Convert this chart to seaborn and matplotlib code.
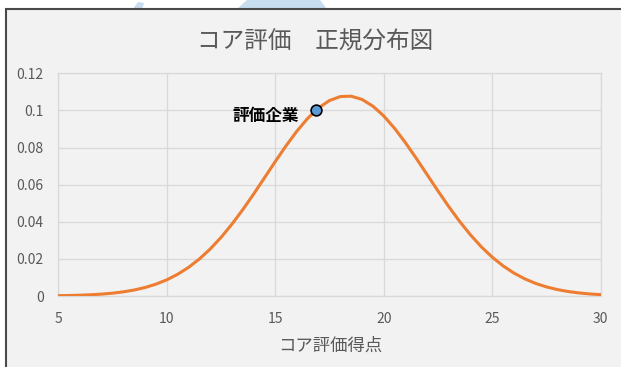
import matplotlib
matplotlib.use("Agg")
import matplotlib.pyplot as plt
from matplotlib.patches import Rectangle, Polygon
import pandas as pd
import seaborn as sns

# Normal-distribution curve of core evaluation scores
score = [5.0, 5.5, 6.0, 6.5, 7.0, 7.5, 8.0, 8.5, 9.0, 9.5,
         10.0, 10.5, 11.0, 11.5, 12.0, 12.5, 13.0, 13.5, 14.0, 14.5,
         15.0, 15.5, 16.0, 16.5, 17.0, 17.5, 18.0, 18.5, 19.0, 19.5,
         20.0, 20.5, 21.0, 21.5, 22.0, 22.5, 23.0, 23.5, 24.0, 24.5,
         25.0, 25.5, 26.0, 26.5, 27.0, 27.5, 28.0, 28.5, 29.0, 29.5, 30.0]
density = [0.00017, 0.00027, 0.00043, 0.00067, 0.00102, 0.00152, 0.00224, 0.00323, 0.00458, 0.00638,
           0.00871, 0.01169, 0.01540, 0.01992, 0.02530, 0.03156, 0.03865, 0.04648, 0.05488, 0.06364,
           0.07245, 0.08097, 0.08888, 0.09579, 0.10136, 0.10533, 0.10747, 0.10766, 0.10591, 0.10230,
           0.09702, 0.09035, 0.08261, 0.07418, 0.06540, 0.05661, 0.04812, 0.04016, 0.03292, 0.02648,
           0.02093, 0.01624, 0.01237, 0.00925, 0.00679, 0.00490, 0.00347, 0.00241, 0.00165, 0.00110, 0.00073]

# The evaluated company
company_score = [16.9]
company_density = [0.1004]
company_label = "評価企業"

title = "コア評価\u3000正規分布図"
x_label = "コア評価得点"
x_ticks = [5, 10, 15, 20, 25, 30]
y_ticks = [0, 0.02, 0.04, 0.06, 0.08, 0.1, 0.12]
y_tick_labels = ["0", "0.02", "0.04", "0.06", "0.08", "0.1", "0.12"]

curve = pd.DataFrame({"score": score, "density": density})
company = pd.DataFrame({"score": company_score, "density": company_density})

sns.set_theme(style="whitegrid")
plt.rcParams["font.family"] = ["Noto Sans CJK JP", "DejaVu Sans"]

W, H = 621, 367
fig = plt.figure(figsize=(W / 100, H / 100), dpi=100)
fig.patch.set_facecolor("white")


def fx(px):
    return px / W


def fy(py):
    return 1 - py / H


# faint decorative shapes peeking above the chart box
for pts in ([(133, 9), (138, 2), (144, 3), (142, 9)],
            [(237, 9), (247, 0), (320, 0), (327, 9)]):
    fig.patches.append(Polygon([(fx(x), fy(y)) for x, y in pts], closed=True,
                               transform=fig.transFigure, facecolor="#c8dcf0",
                               edgecolor="none", zorder=-3))

# chart box
fig.patches.append(Rectangle((fx(5.5), -0.1), 1.2, fy(9) + 0.1,
                             transform=fig.transFigure, facecolor="#f2f2f2",
                             edgecolor="#4a4a4a", linewidth=1.5, zorder=-2))

ax = fig.add_axes([fx(58.3), fy(296), fx(600.7) - fx(58.3), fy(73.3) - fy(296)])
ax.set_zorder(1)
ax.set_facecolor("#f2f2f2")

sns.lineplot(data=curve, x="score", y="density", ax=ax, color="#ED7D31",
             linewidth=2.2, zorder=3)
sns.scatterplot(data=company, x="score", y="density", ax=ax, s=60,
                color="#5B9BD5", edgecolor="black", linewidth=1.2, zorder=5)

ax.annotate(company_label, (company_score[0], company_density[0]),
            xytext=(-12.5, -4.5), textcoords="offset points",
            ha="right", va="center", fontsize=12, fontweight="bold",
            color="black", zorder=6)

ax.set_xlim(5, 30)
ax.set_ylim(0, 0.12)
ax.set_xticks(x_ticks)
ax.set_yticks(y_ticks)
ax.set_yticklabels(y_tick_labels)
ax.set_xlabel("")
ax.set_ylabel("")
ax.grid(True, color="#d9d9d9", linewidth=0.9)
for s in ax.spines.values():
    s.set_color("#d9d9d9")
    s.set_linewidth(0.9)
ax.tick_params(axis="both", length=0, labelsize=10, labelcolor="#595959")
ax.tick_params(axis="y", pad=10.5)
ax.tick_params(axis="x", pad=11.5)

fig.text(fx(315), fy(42), title, ha="center", va="center", fontsize=17,
         color="#595959")
fig.text(fx(330), fy(346), x_label, ha="center", va="center", fontsize=12.5,
         color="#595959")

fig.savefig("out.png", dpi=100, facecolor=fig.get_facecolor())
